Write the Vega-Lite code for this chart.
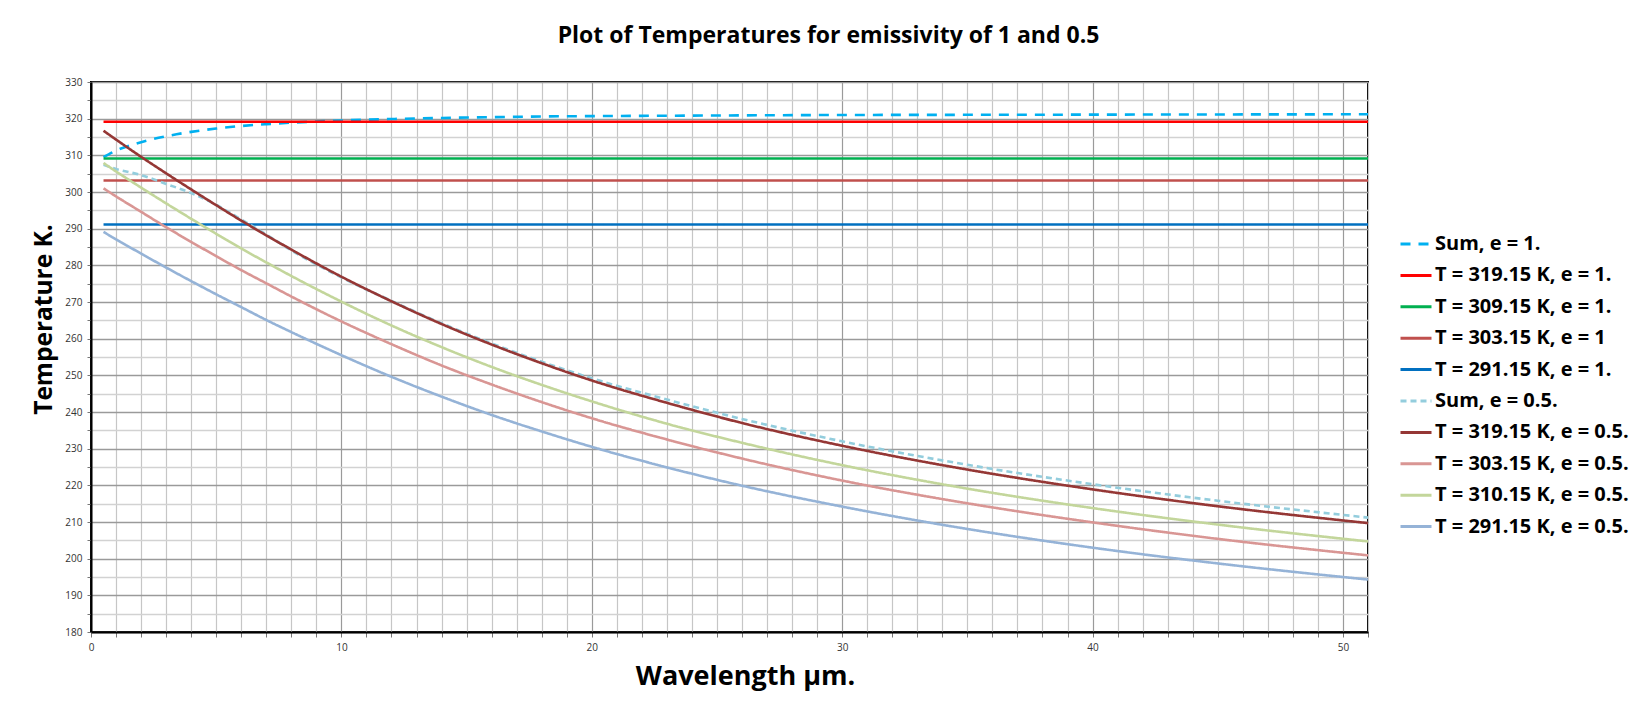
{
  "$schema": "https://vega.github.io/schema/vega-lite/v6.json",
  "width": 1277,
  "height": 550,
  "autosize": {"type": "none"},
  "padding": {"left": 91, "top": 82, "right": 269, "bottom": 85},
  "background": "white",
  "config": {"view": {"stroke": "#000", "strokeWidth": 2}, "font": "Open Sans"},
  "title": {"text": "Plot of Temperatures for emissivity of 1 and 0.5", "font": "Open Sans", "fontSize": 23, "fontWeight": "bold", "color": "#000", "anchor": "middle", "dx": 99, "offset": 29},
  "data": {"values": [
    {"s":"Sum, e = 1.","x":0.5,"y":309.5},{"s":"Sum, e = 1.","x":1,"y":311.3},{"s":"Sum, e = 1.","x":2,"y":313.6},{"s":"Sum, e = 1.","x":3,"y":315.2},{"s":"Sum, e = 1.","x":4,"y":316.4},{"s":"Sum, e = 1.","x":5,"y":317.3},{"s":"Sum, e = 1.","x":6,"y":318.0},{"s":"Sum, e = 1.","x":7,"y":318.5},{"s":"Sum, e = 1.","x":8,"y":318.9},{"s":"Sum, e = 1.","x":10,"y":319.5},{"s":"Sum, e = 1.","x":12,"y":319.9},{"s":"Sum, e = 1.","x":14,"y":320.2},{"s":"Sum, e = 1.","x":16,"y":320.4},{"s":"Sum, e = 1.","x":18,"y":320.6},{"s":"Sum, e = 1.","x":20,"y":320.7},{"s":"Sum, e = 1.","x":23,"y":320.8},{"s":"Sum, e = 1.","x":26,"y":320.9},{"s":"Sum, e = 1.","x":30,"y":321.0},{"s":"Sum, e = 1.","x":35,"y":321.05},{"s":"Sum, e = 1.","x":40,"y":321.1},{"s":"Sum, e = 1.","x":45,"y":321.15},{"s":"Sum, e = 1.","x":51,"y":321.2},
    {"s":"T = 319.15 K, e = 1.","x":0.5,"y":319.15},{"s":"T = 319.15 K, e = 1.","x":51,"y":319.15},
    {"s":"T = 309.15 K, e = 1.","x":0.5,"y":309.15},{"s":"T = 309.15 K, e = 1.","x":51,"y":309.15},
    {"s":"T = 303.15 K, e = 1","x":0.5,"y":303.15},{"s":"T = 303.15 K, e = 1","x":51,"y":303.15},
    {"s":"T = 291.15 K, e = 1.","x":0.5,"y":291.15},{"s":"T = 291.15 K, e = 1.","x":51,"y":291.15},
    {"s":"Sum, e = 0.5.","x":0.5,"y":307.4},{"s":"Sum, e = 0.5.","x":1,"y":306.3},{"s":"Sum, e = 0.5.","x":2,"y":304.6},{"s":"Sum, e = 0.5.","x":3,"y":302.2},{"s":"Sum, e = 0.5.","x":4,"y":299.7},{"s":"Sum, e = 0.5.","x":5,"y":296.5},{"s":"Sum, e = 0.5.","x":6,"y":292.5},{"s":"Sum, e = 0.5.","x":7,"y":288.4},{"s":"Sum, e = 0.5.","x":8,"y":284.1},{"s":"Sum, e = 0.5.","x":10,"y":276.7},{"s":"Sum, e = 0.5.","x":12,"y":270.3},{"s":"Sum, e = 0.5.","x":14,"y":264.2},{"s":"Sum, e = 0.5.","x":16,"y":258.7},{"s":"Sum, e = 0.5.","x":18,"y":253.7},{"s":"Sum, e = 0.5.","x":20,"y":249.2},{"s":"Sum, e = 0.5.","x":23,"y":243.4},{"s":"Sum, e = 0.5.","x":26,"y":238.1},{"s":"Sum, e = 0.5.","x":30,"y":232.0},{"s":"Sum, e = 0.5.","x":35,"y":225.6},{"s":"Sum, e = 0.5.","x":40,"y":220.3},{"s":"Sum, e = 0.5.","x":45,"y":215.8},{"s":"Sum, e = 0.5.","x":51,"y":211.2},
    {"s":"T = 319.15 K, e = 0.5.","x":0.5,"y":316.7},{"s":"T = 319.15 K, e = 0.5.","x":1,"y":314.3},{"s":"T = 319.15 K, e = 0.5.","x":2,"y":309.6},{"s":"T = 319.15 K, e = 0.5.","x":3,"y":305.1},{"s":"T = 319.15 K, e = 0.5.","x":4,"y":300.7},{"s":"T = 319.15 K, e = 0.5.","x":5,"y":296.4},{"s":"T = 319.15 K, e = 0.5.","x":6,"y":292.2},{"s":"T = 319.15 K, e = 0.5.","x":7,"y":288.2},{"s":"T = 319.15 K, e = 0.5.","x":8,"y":284.3},{"s":"T = 319.15 K, e = 0.5.","x":10,"y":276.9},{"s":"T = 319.15 K, e = 0.5.","x":12,"y":270.2},{"s":"T = 319.15 K, e = 0.5.","x":14,"y":264.0},{"s":"T = 319.15 K, e = 0.5.","x":16,"y":258.4},{"s":"T = 319.15 K, e = 0.5.","x":18,"y":253.3},{"s":"T = 319.15 K, e = 0.5.","x":20,"y":248.6},{"s":"T = 319.15 K, e = 0.5.","x":23,"y":242.5},{"s":"T = 319.15 K, e = 0.5.","x":26,"y":237.0},{"s":"T = 319.15 K, e = 0.5.","x":30,"y":230.8},{"s":"T = 319.15 K, e = 0.5.","x":35,"y":224.3},{"s":"T = 319.15 K, e = 0.5.","x":40,"y":218.9},{"s":"T = 319.15 K, e = 0.5.","x":45,"y":214.3},{"s":"T = 319.15 K, e = 0.5.","x":51,"y":209.7},
    {"s":"T = 303.15 K, e = 0.5.","x":0.5,"y":301.0},{"s":"T = 303.15 K, e = 0.5.","x":1,"y":298.8},{"s":"T = 303.15 K, e = 0.5.","x":2,"y":294.6},{"s":"T = 303.15 K, e = 0.5.","x":3,"y":290.4},{"s":"T = 303.15 K, e = 0.5.","x":4,"y":286.4},{"s":"T = 303.15 K, e = 0.5.","x":5,"y":282.5},{"s":"T = 303.15 K, e = 0.5.","x":6,"y":278.7},{"s":"T = 303.15 K, e = 0.5.","x":7,"y":275.1},{"s":"T = 303.15 K, e = 0.5.","x":8,"y":271.5},{"s":"T = 303.15 K, e = 0.5.","x":10,"y":264.7},{"s":"T = 303.15 K, e = 0.5.","x":12,"y":258.5},{"s":"T = 303.15 K, e = 0.5.","x":14,"y":252.7},{"s":"T = 303.15 K, e = 0.5.","x":16,"y":247.5},{"s":"T = 303.15 K, e = 0.5.","x":18,"y":242.7},{"s":"T = 303.15 K, e = 0.5.","x":20,"y":238.3},{"s":"T = 303.15 K, e = 0.5.","x":23,"y":232.5},{"s":"T = 303.15 K, e = 0.5.","x":26,"y":227.3},{"s":"T = 303.15 K, e = 0.5.","x":30,"y":221.3},{"s":"T = 303.15 K, e = 0.5.","x":35,"y":215.1},{"s":"T = 303.15 K, e = 0.5.","x":40,"y":209.9},{"s":"T = 303.15 K, e = 0.5.","x":45,"y":205.4},{"s":"T = 303.15 K, e = 0.5.","x":51,"y":200.9},
    {"s":"T = 310.15 K, e = 0.5.","x":0.5,"y":307.9},{"s":"T = 310.15 K, e = 0.5.","x":1,"y":305.6},{"s":"T = 310.15 K, e = 0.5.","x":2,"y":301.2},{"s":"T = 310.15 K, e = 0.5.","x":3,"y":296.9},{"s":"T = 310.15 K, e = 0.5.","x":4,"y":292.7},{"s":"T = 310.15 K, e = 0.5.","x":5,"y":288.6},{"s":"T = 310.15 K, e = 0.5.","x":6,"y":284.6},{"s":"T = 310.15 K, e = 0.5.","x":7,"y":280.8},{"s":"T = 310.15 K, e = 0.5.","x":8,"y":277.1},{"s":"T = 310.15 K, e = 0.5.","x":10,"y":270.1},{"s":"T = 310.15 K, e = 0.5.","x":12,"y":263.6},{"s":"T = 310.15 K, e = 0.5.","x":14,"y":257.7},{"s":"T = 310.15 K, e = 0.5.","x":16,"y":252.3},{"s":"T = 310.15 K, e = 0.5.","x":18,"y":247.4},{"s":"T = 310.15 K, e = 0.5.","x":20,"y":242.9},{"s":"T = 310.15 K, e = 0.5.","x":23,"y":236.8},{"s":"T = 310.15 K, e = 0.5.","x":26,"y":231.6},{"s":"T = 310.15 K, e = 0.5.","x":30,"y":225.5},{"s":"T = 310.15 K, e = 0.5.","x":35,"y":219.1},{"s":"T = 310.15 K, e = 0.5.","x":40,"y":213.8},{"s":"T = 310.15 K, e = 0.5.","x":45,"y":209.3},{"s":"T = 310.15 K, e = 0.5.","x":51,"y":204.7},
    {"s":"T = 291.15 K, e = 0.5.","x":0.5,"y":289.1},{"s":"T = 291.15 K, e = 0.5.","x":1,"y":287.1},{"s":"T = 291.15 K, e = 0.5.","x":2,"y":283.2},{"s":"T = 291.15 K, e = 0.5.","x":3,"y":279.4},{"s":"T = 291.15 K, e = 0.5.","x":4,"y":275.7},{"s":"T = 291.15 K, e = 0.5.","x":5,"y":272.1},{"s":"T = 291.15 K, e = 0.5.","x":6,"y":268.6},{"s":"T = 291.15 K, e = 0.5.","x":7,"y":265.1},{"s":"T = 291.15 K, e = 0.5.","x":8,"y":261.8},{"s":"T = 291.15 K, e = 0.5.","x":10,"y":255.5},{"s":"T = 291.15 K, e = 0.5.","x":12,"y":249.6},{"s":"T = 291.15 K, e = 0.5.","x":14,"y":244.2},{"s":"T = 291.15 K, e = 0.5.","x":16,"y":239.2},{"s":"T = 291.15 K, e = 0.5.","x":18,"y":234.7},{"s":"T = 291.15 K, e = 0.5.","x":20,"y":230.5},{"s":"T = 291.15 K, e = 0.5.","x":23,"y":224.9},{"s":"T = 291.15 K, e = 0.5.","x":26,"y":219.9},{"s":"T = 291.15 K, e = 0.5.","x":30,"y":214.2},{"s":"T = 291.15 K, e = 0.5.","x":35,"y":208.1},{"s":"T = 291.15 K, e = 0.5.","x":40,"y":203.0},{"s":"T = 291.15 K, e = 0.5.","x":45,"y":198.7},{"s":"T = 291.15 K, e = 0.5.","x":51,"y":194.3}
  ]},
  "mark": {"type": "line", "strokeWidth": 2.6, "interpolate": "monotone"},
  "encoding": {
    "x": {
      "field": "x", "type": "quantitative",
      "scale": {"domain": [0, 51], "nice": false, "zero": false},
      "axis": {
        "values": [0,1,2,3,4,5,6,7,8,9,10,11,12,13,14,15,16,17,18,19,20,21,22,23,24,25,26,27,28,29,30,31,32,33,34,35,36,37,38,39,40,41,42,43,44,45,46,47,48,49,50,51],
        "labelExpr": "datum.value % 10 === 0 ? datum.label : ''",
        "labelOverlap": false, "labelFlush": false,
        "gridColor": {"condition": {"test": "datum.value % 10 === 0", "value": "#9a9a9a"}, "value": "#c6c6c6"},
        "gridWidth": 1.2,
        "domainColor": "#000", "domainWidth": 2,
        "tickColor": "#777", "tickSize": 5,
        "labelFont": "Open Sans", "labelFontSize": 10, "labelColor": "#333", "labelPadding": 5,
        "title": "Wavelength µm.", "titleFont": "Open Sans", "titleFontSize": 27, "titleFontWeight": "bold", "titleColor": "#000",
        "titleX": 654, "titleY": 44, "titleBaseline": "middle", "titleAlign": "center"
      }
    },
    "y": {
      "field": "y", "type": "quantitative",
      "scale": {"domain": [180, 330], "nice": false, "zero": false},
      "axis": {
        "values": [180,185,190,195,200,205,210,215,220,225,230,235,240,245,250,255,260,265,270,275,280,285,290,295,300,305,310,315,320,325,330],
        "labelExpr": "datum.value % 10 === 0 ? datum.label : ''",
        "labelOverlap": false, "labelFlush": false,
        "gridColor": {"condition": {"test": "datum.value % 10 === 0", "value": "#9a9a9a"}, "value": "#d2d2d2"},
        "gridWidth": 1.3,
        "domainColor": "#000", "domainWidth": 2,
        "tickColor": "#777", "tickSize": 4,
        "labelFont": "Open Sans", "labelFontSize": 10, "labelColor": "#333", "labelPadding": 5,
        "title": "Temperature K.", "titleFont": "Open Sans", "titleFontSize": 24.5, "titleFontWeight": "bold", "titleColor": "#000",
        "titleX": -47, "titleY": 237, "titleBaseline": "middle", "titleAlign": "center", "titleAngle": 270
      }
    },
    "color": {
      "field": "s", "type": "nominal",
      "scale": {
        "domain": ["Sum, e = 1.", "T = 319.15 K, e = 1.", "T = 309.15 K, e = 1.", "T = 303.15 K, e = 1", "T = 291.15 K, e = 1.", "Sum, e = 0.5.", "T = 319.15 K, e = 0.5.", "T = 303.15 K, e = 0.5.", "T = 310.15 K, e = 0.5.", "T = 291.15 K, e = 0.5."],
        "range": ["#00B0F0", "#FF0000", "#00B050", "#C0504D", "#0070C0", "#93CDDD", "#953735", "#D99694", "#C3D69B", "#95B3D7"]
      },
      "legend": {
        "orient": "none", "legendX": 1308, "legendY": 145, "title": null, "padding": 0,
        "symbolType": "stroke", "symbolSize": 961, "symbolStrokeWidth": 3,
        "labelFont": "Open Sans", "labelFontSize": 20, "labelFontWeight": "bold", "labelColor": "#000", "labelLimit": 300, "labelOffset": 2,
        "rowPadding": 4.4
      }
    },
    "strokeDash": {
      "field": "s", "type": "nominal",
      "scale": {
        "domain": ["Sum, e = 1.", "T = 319.15 K, e = 1.", "T = 309.15 K, e = 1.", "T = 303.15 K, e = 1", "T = 291.15 K, e = 1.", "Sum, e = 0.5.", "T = 319.15 K, e = 0.5.", "T = 303.15 K, e = 0.5.", "T = 310.15 K, e = 0.5.", "T = 291.15 K, e = 0.5."],
        "range": [[10, 8], [1, 0], [1, 0], [1, 0], [1, 0], [6, 4], [1, 0], [1, 0], [1, 0], [1, 0]]
      },
      "legend": {
        "orient": "none", "legendX": 1308, "legendY": 145, "title": null, "padding": 0,
        "symbolType": "stroke", "symbolSize": 961, "symbolStrokeWidth": 3,
        "labelFont": "Open Sans", "labelFontSize": 20, "labelFontWeight": "bold", "labelColor": "#000", "labelLimit": 300, "labelOffset": 2,
        "rowPadding": 4.4
      }
    }
  }
}
